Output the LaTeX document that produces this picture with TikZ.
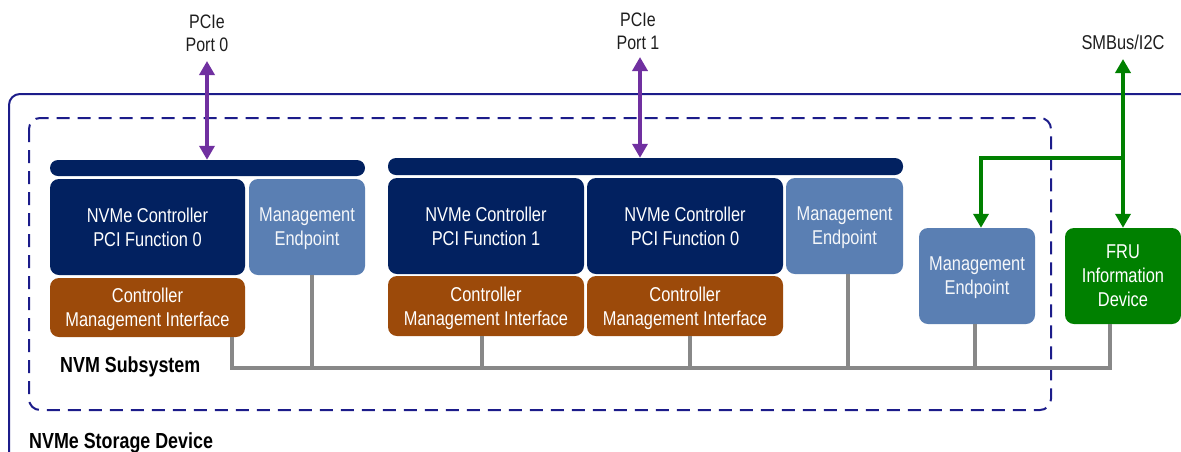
\documentclass[tikz,border=0pt]{standalone}
\usepackage{fontspec}
\setmainfont{Liberation Sans}[FakeStretch=0.82]
\usetikzlibrary{arrows.meta}
\definecolor{ctrlblue}{RGB}{2,33,96}
\definecolor{mgmtblue}{RGB}{90,127,179}
\definecolor{cmibrown}{RGB}{156,74,10}
\definecolor{frugreen}{RGB}{0,128,0}
\definecolor{busgray}{RGB}{136,136,136}
\definecolor{framenavy}{RGB}{28,28,138}
\definecolor{pciepurple}{RGB}{112,48,160}
\definecolor{labelgray}{RGB}{30,30,30}
\tikzset{
  boxbase/.style={rounded corners=9pt, inner sep=0pt, align=center, text depth=0pt,
    font=\fontsize{20}{24}\selectfont, text=white},
  ctrlbox/.style={boxbase, fill=ctrlblue, minimum height=96pt},
  mgmtbox/.style={boxbase, fill=mgmtblue, minimum height=96pt, minimum width=116pt, text={white!94!mgmtblue}},
  cmibox/.style={boxbase, fill=cmibrown, minimum height=60pt, minimum width=196pt},
  frubox/.style={boxbase, fill=frugreen, minimum height=96pt, minimum width=116pt},
  barbox/.style={rounded corners=8pt, fill=ctrlblue, inner sep=0pt},
  toplabel/.style={align=center, text=labelgray, font=\fontsize{19.5}{23}\selectfont, inner sep=0pt},
  boldlabel/.style={font=\fontsize{21.8}{24}\selectfont\bfseries, text=black, inner sep=0pt, anchor=base west},
  busline/.style={draw=busgray, line width=4pt},
  pciearrow/.style={draw=pciepurple, line width=4.5pt, {Triangle[width=15pt,length=14pt]}-{Triangle[width=15pt,length=14pt]}},
  smbline/.style={draw=frugreen, line width=4pt},
  smbtip/.style={-{Triangle[width=15pt,length=14pt]}},
}
\begin{document}
\begin{tikzpicture}[x=1pt,y=-1pt]
\useasboundingbox (0,0) rectangle (1181,451);

% outer frame (NVMe Storage Device)
\begin{scope}
\clip (0,0) rectangle (1181,451);
\draw[framenavy, line width=2pt, rounded corners=11pt] (9,94) rectangle (1200,462);
\end{scope}

% NVM subsystem dashed frame
\draw[framenavy, line width=2pt, dash pattern=on 13pt off 8pt, rounded corners=11pt] (29,118) rectangle (1051,410);

% bars
\node[barbox, minimum width=315pt, minimum height=16pt] (bar0) at (207.5,168) {};
\node[barbox, minimum width=515pt, minimum height=17pt] (bar1) at (645.5,166.5) {};

% left group
\node[ctrlbox, minimum width=195pt] (c0) at (147.5,227) {NVMe Controller\\PCI Function 0};
\node[mgmtbox] (me0) at (307,227) {Management\\Endpoint};
\node[cmibox, minimum width=195pt, minimum height=59pt] (cmi0) at (147.5,307.5) {Controller\\Management Interface};

% middle group
\node[ctrlbox, minimum width=196pt] (c1) at (486,226) {NVMe Controller\\PCI Function 1};
\node[ctrlbox, minimum width=196pt] (c2) at (685,226) {NVMe Controller\\PCI Function 0};
\node[mgmtbox, minimum width=117pt] (me1) at (844.5,226) {Management\\Endpoint};
\node[cmibox] (cmi1) at (486,306) {Controller\\Management Interface};
\node[cmibox] (cmi2) at (685,306) {Controller\\Management Interface};

% right group
\node[mgmtbox] (me2) at (977,276) {Management\\Endpoint};
\node[frubox] (fru) at (1123,276) {FRU\\Information\\Device};

% labels
\node[toplabel] (lp0) at (207,33) {PCIe\\Port 0};
\node[toplabel] (lp1) at (638,31) {PCIe\\Port 1};
\node[toplabel, font=\fontsize{20}{23}\selectfont] (lsmb) at (1123,42) {SMBus/I2C};
\node[boldlabel] (lsub) at (60,372.5) {NVM Subsystem};
\node[boldlabel] (ldev) at (29,448) {NVMe Storage Device};

% PCIe arrows
\coordinate (p0) at (207,61);
\coordinate (p1) at (640,57);
\draw[pciearrow] (p0) -- (p0 |- bar0.north);
\draw[pciearrow] (p1) -- (p1 |- bar1.north);

% SMBus / I2C
\coordinate (s0) at (1123,59);
\coordinate (sj) at (1123,158);
\coordinate (sl) at (981,158);
\draw[smbline, {Triangle[width=15pt,length=14pt]}-{Triangle[width=15pt,length=14pt]}] (s0) -- (s0 |- fru.north);
\draw[smbline, smbtip] (sj) -- (sl) -- (sl |- me2.north);

% management bus
\coordinate (b0) at (232,368);
\coordinate (b1) at (312,368);
\coordinate (b2) at (482,368);
\coordinate (b3) at (690,368);
\coordinate (b4) at (848,368);
\coordinate (b5) at (975,368);
\coordinate (b6) at (1110,368);
\draw[busline] (cmi0.south -| b0) -- (b0) -- (b6) -- (fru.south -| b6);
\draw[busline] (me0.south -| b1) -- (b1);
\draw[busline] (cmi1.south -| b2) -- (b2);
\draw[busline] (cmi2.south -| b3) -- (b3);
\draw[busline] (me1.south -| b4) -- (b4);
\draw[busline] (me2.south -| b5) -- (b5);
\end{tikzpicture}
\end{document}
